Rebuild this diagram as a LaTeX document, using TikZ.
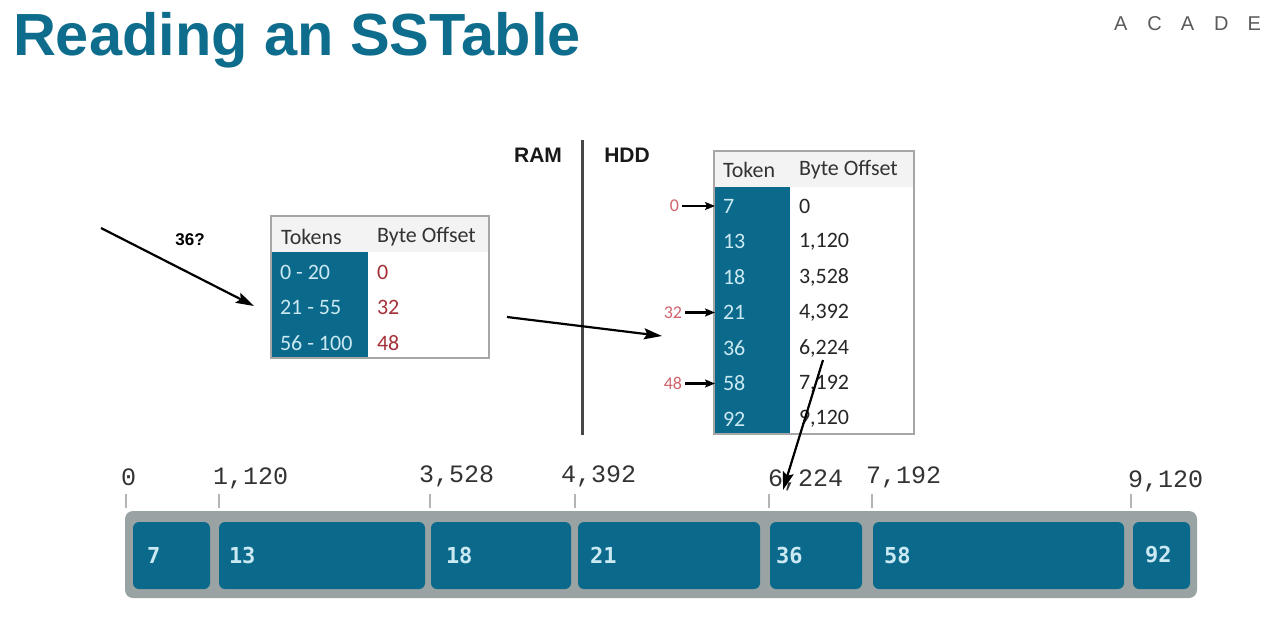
\documentclass[tikz,border=0pt]{standalone}
\usepackage{fontspec}
\setmainfont{Liberation Sans}
\newfontfamily\tablefont{Carlito}
\newfontfamily\scalefont{Liberation Mono}
\newfontfamily\cellfont{DejaVu Sans Mono}
\usetikzlibrary{arrows.meta}

\definecolor{titleteal}{HTML}{0E6C8D}
\definecolor{sstteal}{HTML}{0B6A8B}
\definecolor{celltext}{HTML}{CBE9F3}
\definecolor{barbg}{HTML}{9AA3A4}
\definecolor{framegray}{HTML}{A6A6A6}
\definecolor{headgray}{HTML}{F3F3F3}
\definecolor{offred}{HTML}{A4323A}
\definecolor{ptrred}{HTML}{D0646C}
\definecolor{scaletext}{HTML}{333333}
\definecolor{tickgray}{HTML}{B4B4B4}
\definecolor{logogray}{HTML}{5A5A5A}
\definecolor{divider}{HTML}{474747}

\begin{document}
\begin{tikzpicture}[x=1pt,y=-1pt,
  every node/.style={inner sep=0pt,outer sep=0pt},
  tableframe/.style={draw=framegray,line width=1.2pt,anchor=north west},
  headfill/.style={fill=headgray,anchor=north west},
  tokfill/.style={fill=sstteal,anchor=north west},
  cellfont/.style={font=\tablefont\fontsize{22}{22}\selectfont},
  hdrtext/.style={anchor=west,cellfont,text=black!80},
  toktext/.style={anchor=west,cellfont,text=celltext},
  offtext/.style={anchor=west,cellfont,text=offred},
  valtext/.style={anchor=west,cellfont,text=black!85},
  ptrlabel/.style={anchor=east,font=\tablefont\fontsize{18}{18}\selectfont,text=ptrred},
  ptrarrow/.style={-{Stealth[length=10pt,width=8pt,inset=2pt]},line width=2.2pt,shorten >=2pt},
  bigarrow/.style={-{Stealth[length=18pt,width=11pt,inset=3pt]},line width=2.2pt},
  blockbox/.style={fill=sstteal,rounded corners=6pt},
  blocklabel/.style={anchor=west,font=\cellfont\bfseries\fontsize{22}{22}\selectfont,text=celltext},
  scalelabel/.style={anchor=base west,font=\scalefont\fontsize{25}{25}\selectfont,text=scaletext},
  tickmark/.style={draw=tickgray,line width=1.6pt},
  sidelabel/.style={font=\bfseries\fontsize{21}{21}\selectfont,text=black!90}]

\useasboundingbox (0,0) rectangle (1263,633);
\fill[white] (0,0) rectangle (1263,633);

% heading and logo
\node[anchor=base west,font=\bfseries\fontsize{59.5}{60}\selectfont,text=titleteal] (title) at (13,55) {Reading an SSTable};
\node[anchor=base west,font=\fontsize{20}{20}\selectfont,text=logogray] (logo) at (1114,30)
  {A\hspace{20pt}C\hspace{19pt}A\hspace{20pt}D\hspace{19pt}E};

% RAM / HDD split
\node[sidelabel] (ram) at (538,155) {RAM};
\node[sidelabel] (hdd) at (627,155) {HDD};
\coordinate (divtop) at (582,140);
\coordinate (divbot) at (582,435);
\draw[divider,line width=3pt] (divtop) -- (divbot);

% partition index (RAM)
\node[headfill,minimum width=218pt,minimum height=36pt] (ihead) at (271,216) {};
\node[tokfill,minimum width=97pt,minimum height=106pt] (icol) at (271,252) {};
\node[tableframe,minimum width=218pt,minimum height=142pt] (iframe) at (271,216) {};
\node[hdrtext] (ihtok) at (281,237) {Tokens};
\node[hdrtext] (ihoff) at (377,237) {Byte Offset};
\node[toktext] (ir1) at (280,272) {0 - 20};
\node[toktext] (ir2) at (280,307) {21 - 55};
\node[toktext] (ir3) at (280,343) {56 - 100};
\node[offtext] (io1) at (377,272) {0};
\node[offtext] (io2) at (377,307) {32};
\node[offtext] (io3) at (377,343) {48};

% query arrow
\node[font=\bfseries\fontsize{17}{17}\selectfont] (query) at (190,240) {36?};
\coordinate (qstart) at (101,228);
\coordinate (qend) at (254,306);
\draw[bigarrow] (qstart) -- (qend);

% index to data arrow
\coordinate (mstart) at (507,317);
\coordinate (mend) at (662,336);
\draw[bigarrow] (mstart) -- (mend);

% SSTable data file (HDD)
\node[headfill,minimum width=200pt,minimum height=36pt] (dhead) at (714,151) {};
\node[tokfill,minimum width=76pt,minimum height=247pt] (dcol) at (714,187) {};
\node[tableframe,minimum width=200pt,minimum height=283pt] (dframe) at (714,151) {};
\node[hdrtext] (dhtok) at (723,170) {Token};
\node[hdrtext] (dhoff) at (799,170) {Byte Offset};
\foreach \tok/\val/\y [count=\i] in {7/0/206,13/{1,120}/241.5,18/{3,528}/277,21/{4,392}/312.5,36/{6,224}/348,58/{7,192}/383.5,92/{9,120}/419}{
  \node[toktext] (dt\i) at (723,\y) {\tok};
  \node[valtext] (dv\i) at (799,\y) {\val};
}

% offsets from the index pointing into the data file
\node[ptrlabel] (p0) at (679,206) {0};
\node[ptrlabel] (p32) at (682,312.5) {32};
\node[ptrlabel] (p48) at (682,383.5) {48};
\draw[ptrarrow] ([xshift=3pt]p0.east) -- ([xshift=3pt]p0.east -| dcol.west);
\draw[ptrarrow] ([xshift=3pt]p32.east) -- ([xshift=3pt]p32.east -| dcol.west);
\draw[ptrarrow] ([xshift=3pt]p48.east) -- ([xshift=3pt]p48.east -| dcol.west);

% seek arrow into the file
\coordinate (sstart) at (823,360);
\coordinate (send) at (783,490);
\draw[bigarrow] (sstart) -- (send);

% byte scale
\foreach \lab/\lx/\ly/\tx [count=\i] in {0/121/485/126,{1,120}/213/484/219,{3,528}/419/482/430,{4,392}/561/482/575,{6,224}/768/486/769,{7,192}/866/483/872,{9,120}/1128/487/1131}{
  \node[scalelabel] (s\i) at (\lx,\ly) {\lab};
  \draw[tickmark] (\tx,494) -- (\tx,508);
}

% file blocks
\fill[barbg,rounded corners=8pt] (125,511) rectangle (1197,598);
\foreach \lab/\xa/\xb/\lx [count=\i] in {7/133/210/147,13/219/425/229,18/431/571/446,21/578/760/590,36/770/862/776,58/873/1124/884,92/1133/1190/1145}{
  \fill[blockbox] (\xa,522) rectangle (\xb,589);
  \node[blocklabel] (b\i) at (\lx,555) {\lab};
}
\end{tikzpicture}
\end{document}
